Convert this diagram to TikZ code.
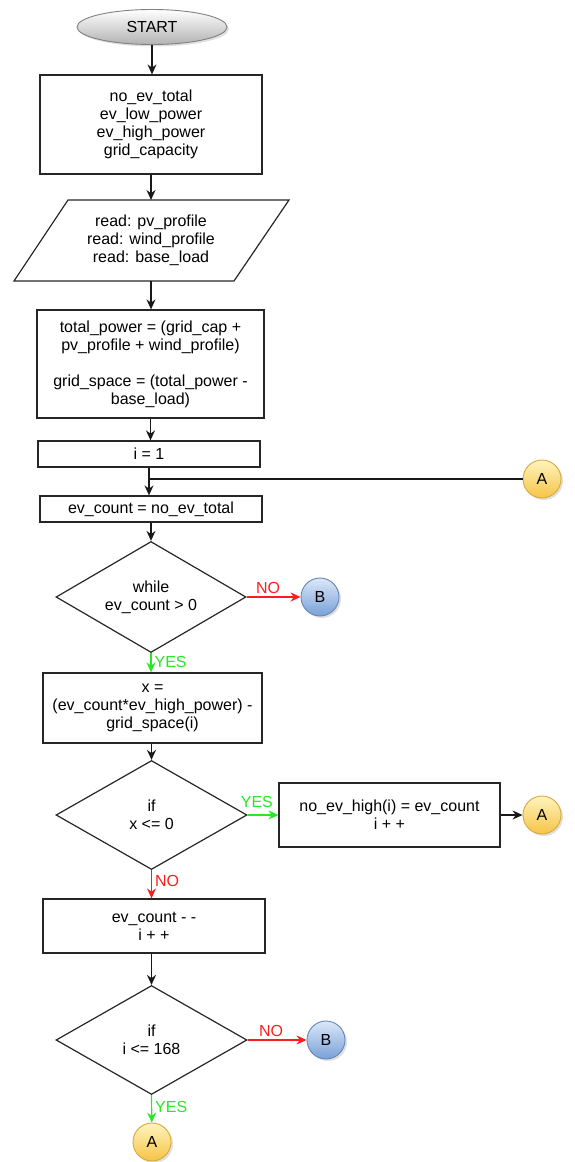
\documentclass[tikz,border=0pt]{standalone}
\usepackage{fontspec}
\setmainfont{Liberation Sans}
\usetikzlibrary{shapes.geometric,arrows.meta,shadows}
\definecolor{yesgreen}{RGB}{40,230,40}
\definecolor{nored}{RGB}{250,30,30}
\definecolor{ayellowt}{RGB}{255,244,190}
\definecolor{ayellowb}{RGB}{246,196,70}
\definecolor{ayellowd}{RGB}{214,170,60}
\definecolor{bbluet}{RGB}{220,232,250}
\definecolor{bblueb}{RGB}{120,160,215}
\definecolor{bblued}{RGB}{100,135,185}
\tikzset{
  txt/.style={font=\fontsize{16}{18}\selectfont, align=center, inner sep=0pt},
  procbox/.style={txt, draw=black!85, line width=1.2pt, rectangle},
  decide/.style={txt, draw=black!85, line width=1.2pt, diamond, aspect=1.7},
  terminal/.style={txt, ellipse, draw=black!50, line width=0.9pt,
     top color=white, bottom color=black!30, drop shadow={opacity=0.25,shadow xshift=2pt,shadow yshift=-2pt}},
  conA/.style={txt, circle, minimum size=38pt, draw=ayellowd, line width=0.9pt,
     top color=ayellowt, bottom color=ayellowb, drop shadow={opacity=0.25,shadow xshift=2pt,shadow yshift=-2pt}},
  conB/.style={txt, circle, minimum size=38pt, draw=bblued, line width=0.9pt,
     top color=bbluet, bottom color=bblueb, drop shadow={opacity=0.25,shadow xshift=2pt,shadow yshift=-2pt}},
  flow/.style={line width=1.2pt, black!90, -{Stealth[length=10pt,width=9pt]}},
  yesflow/.style={flow, yesgreen},
  noflow/.style={flow, nored},
  yeslbl/.style={txt, text=yesgreen},
  nolbl/.style={txt, text=nored},
}
\begin{document}
\begin{tikzpicture}[x=1pt,y=-1pt]
\useasboundingbox (0,0) rectangle (574,1162);

\node[terminal, minimum width=150pt, minimum height=35pt] (start) at (152,27) {START};

\node[procbox, minimum width=222pt, minimum height=99pt] (init) at (151,124.5)
  {no\_ev\_total\\ev\_low\_power\\ev\_high\_power\\grid\_capacity};

\draw[line width=1.2pt, black!85] (68,200) -- (289,200) -- (234,281) -- (14,281) -- cycle;
\node[txt, minimum width=160pt, minimum height=81pt] (read) at (151,240.5)
  {read: pv\_profile\\read: wind\_profile\\read: base\_load};

\node[procbox, minimum width=227pt, minimum height=108pt] (calc) at (150.5,364)
  {total\_power = (grid\_cap +\\pv\_profile + wind\_profile)\\[18pt]grid\_space = (total\_power -\\base\_load)};

\node[procbox, minimum width=222pt, minimum height=26pt] (iinit) at (149,454) {i = 1};

\node[conA] (A1) at (542,479) {A};

\node[procbox, minimum width=222pt, minimum height=26pt] (evc) at (151,509) {ev\_count = no\_ev\_total};

\node[decide, minimum width=190pt, minimum height=111pt] (while) at (151,597) {while\\ev\_count > 0};
\node[conB] (B1) at (320,597) {B};

\node[procbox, minimum width=219pt, minimum height=70pt] (xcalc) at (152.5,708)
  {x =\\(ev\_count*ev\_high\_power) -\\grid\_space(i)};

\node[decide, minimum width=191pt, minimum height=109pt] (ifx) at (151.5,815) {if\\x <= 0};

\node[procbox, minimum width=221pt, minimum height=64pt] (high) at (389.5,815)
  {no\_ev\_high(i) = ev\_count\\i + +};
\node[conA] (A2) at (542,815) {A};

\node[procbox, minimum width=222pt, minimum height=54pt] (dec) at (154,926)
  {ev\_count - -\\i + +};

\node[decide, minimum width=191pt, minimum height=109pt] (ifi) at (151.5,1040) {if\\i <= 168};
\node[conB] (B2) at (326,1040) {B};
\node[conA] (A3) at (152,1142) {A};

% connectors
\draw[flow] (start) -- (start |- init.north);
\draw[flow] (init) -- (init |- 0,200);
\draw[flow] (151,281) -- (calc.north -| 151,0);
\draw[flow] (calc) -- (calc |- iinit.north);
\draw[flow] (iinit) -- (iinit |- evc.north);
\draw[line width=1.2pt, black!90] (A1) -- (A1 -| iinit);
\draw[flow] (evc) -- (evc |- while.north);
\draw[noflow] (while.east) -- node[nolbl, above=3pt, pos=0.4] {NO} (B1);
\draw[yesflow] (while.south) -- node[yeslbl, right=3pt, pos=0.45] {YES} (while.south |- xcalc.north);
\draw[flow] (xcalc.south -| ifx) -- (ifx.north);
\draw[yesflow] (ifx.east) -- node[yeslbl, above=7pt, pos=0.3] {YES} (high.west);
\draw[flow] (high) -- (A2);
\draw[noflow] (ifx.south) -- node[nolbl, right=3pt, pos=0.4] {NO} (ifx.south |- dec.north);
\draw[flow] (dec.south -| ifi) -- (ifi.north);
\draw[noflow] (ifi.east) -- node[nolbl, above=3pt, pos=0.4] {NO} (B2);
\draw[yesflow] (ifi.south) -- node[yeslbl, right=3pt, pos=0.45] {YES} (A3);
\end{tikzpicture}
\end{document}
